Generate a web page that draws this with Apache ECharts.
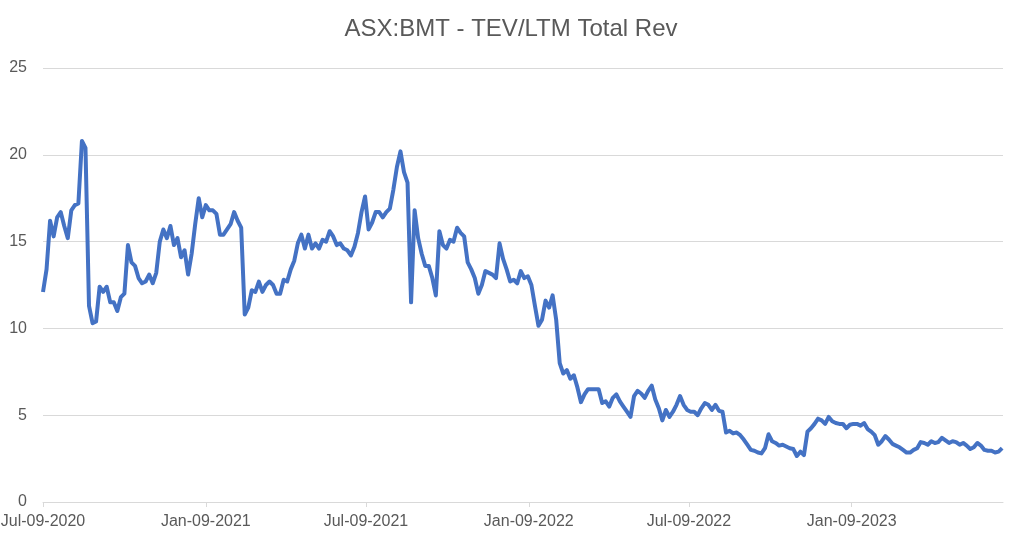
<!DOCTYPE html>
<html>
<head>
<meta charset="utf-8">
<script src="https://cdn.jsdelivr.net/npm/echarts@6/dist/echarts.min.js"></script>
<style>
  html, body { margin: 0; padding: 0; background: #fff; }
  #chart { width: 1022px; height: 550px; }
</style>
</head>
<body>
<div id="chart"></div>
<script>
// series starts Jul-09-2020, one reading every 4 days
var startDate = [2020, 6, 9];
var stepDays = 4;
var axisEndDays = 1085;

var tickDates = ['2020-07-09', '2021-01-09', '2021-07-09', '2022-01-09', '2022-07-09', '2023-01-09'];

var yTicks = [0, 5, 10, 15, 20, 25];

var tevRev = [
    12.1, 13.4, 16.2, 15.3, 16.4, 16.7, 15.9, 15.2, 16.8, 17.1,
    17.2, 20.8, 20.4, 11.3, 10.3, 10.4, 12.4, 12.1, 12.4, 11.5,
    11.5, 11.0, 11.8, 12.0, 14.8, 13.8, 13.6, 12.9, 12.6, 12.7,
    13.1, 12.6, 13.2, 15.0, 15.7, 15.2, 15.9, 14.8, 15.2, 14.1,
    14.5, 13.1, 14.3, 16.0, 17.5, 16.4, 17.1, 16.8, 16.8, 16.6,
    15.4, 15.4, 15.7, 16.0, 16.7, 16.2, 15.8, 10.8, 11.2, 12.2,
    12.1, 12.7, 12.1, 12.5, 12.7, 12.5, 12.0, 12.0, 12.8, 12.7,
    13.4, 13.9, 14.9, 15.4, 14.6, 15.4, 14.6, 14.9, 14.6, 15.1,
    15.0, 15.6, 15.3, 14.8, 14.9, 14.6, 14.5, 14.2, 14.7, 15.5,
    16.7, 17.6, 15.7, 16.1, 16.7, 16.7, 16.4, 16.7, 16.9, 18.0,
    19.3, 20.2, 19.0, 18.4, 11.5, 16.8, 15.2, 14.3, 13.6, 13.6,
    12.9, 11.9, 15.6, 14.8, 14.6, 15.1, 15.0, 15.8, 15.5, 15.3,
    13.8, 13.4, 12.9, 12.0, 12.5, 13.3, 13.2, 13.1, 12.9, 14.9,
    14.0, 13.4, 12.7, 12.8, 12.6, 13.3, 12.9, 13.0, 12.5, 11.3,
    10.15, 10.5, 11.6, 11.2, 11.9, 10.5, 8.0, 7.4, 7.6, 7.1,
    7.3, 6.6, 5.75, 6.2, 6.5, 6.5, 6.5, 6.5, 5.7, 5.8,
    5.5, 6.0, 6.2, 5.8, 5.5, 5.2, 4.9, 6.1, 6.4, 6.25,
    6.0, 6.4, 6.7, 5.9, 5.4, 4.7, 5.3, 4.9, 5.2, 5.6,
    6.1, 5.6, 5.3, 5.2, 5.2, 5.0, 5.4, 5.7, 5.6, 5.3,
    5.6, 5.25, 5.2, 4.0, 4.1, 3.95, 4.0, 3.85, 3.6, 3.3,
    3.0, 2.95, 2.85, 2.8, 3.1, 3.9, 3.5, 3.4, 3.25, 3.3,
    3.2, 3.1, 3.05, 2.65, 2.9, 2.7, 4.05, 4.25, 4.5, 4.8,
    4.7, 4.5, 4.9, 4.65, 4.55, 4.5, 4.5, 4.25, 4.45, 4.5,
    4.5, 4.4, 4.55, 4.2, 4.05, 3.85, 3.3, 3.5, 3.8, 3.6,
    3.35, 3.25, 3.15, 3.0, 2.85, 2.85, 3.0, 3.1, 3.45, 3.4,
    3.3, 3.5, 3.4, 3.45, 3.7, 3.55, 3.4, 3.5, 3.45, 3.3,
    3.4, 3.25, 3.05, 3.15, 3.4, 3.25, 3.0, 2.95, 2.95, 2.85,
    2.9, 3.1
];

var months = ['Jan', 'Feb', 'Mar', 'Apr', 'May', 'Jun', 'Jul', 'Aug', 'Sep', 'Oct', 'Nov', 'Dec'];

function dayAt(n) {
    return new Date(startDate[0], startDate[1], startDate[2] + n).getTime();
}
function parseDay(s) {
    var p = s.split('-');
    return new Date(+p[0], +p[1] - 1, +p[2]).getTime();
}
function fmtDay(v) {
    var d = new Date(v);
    var dd = d.getDate() < 10 ? '0' + d.getDate() : '' + d.getDate();
    return months[d.getMonth()] + '-' + dd + '-' + d.getFullYear();
}

var seriesData = tevRev.map(function (v, i) {
    return [dayAt(i * stepDays), v];
});
var tickValues = tickDates.map(parseDay);

var myChart = echarts.init(document.getElementById('chart'));

var option = {
    animation: false,
    backgroundColor: '#ffffff',
    title: {
        text: 'ASX:BMT - TEV/LTM Total Rev',
        left: 'center',
        top: 12,
        textStyle: {
            fontFamily: 'Liberation Sans',
            fontSize: 24,
            fontWeight: 'normal',
            color: '#595959'
        }
    },
    grid: {
        left: 43,
        right: 19,
        top: 68,
        bottom: 48,
        // first date label hangs off the left edge, like the original
        outerBoundsMode: 'none'
    },
    xAxis: {
        // dates as timestamps on a value axis so the ticks sit exactly on the 9th
        type: 'value',
        min: dayAt(0),
        max: dayAt(axisEndDays),
        axisLine: { show: true, lineStyle: { color: '#d9d9d9', width: 1 } },
        axisTick: {
            show: true,
            length: 5,
            customValues: tickValues,
            lineStyle: { color: '#d9d9d9' }
        },
        axisLabel: {
            customValues: tickValues,
            formatter: fmtDay,
            margin: 12,
            fontFamily: 'Liberation Sans',
            fontSize: 16,
            color: '#595959'
        },
        splitLine: { show: false }
    },
    yAxis: {
        type: 'value',
        min: yTicks[0],
        max: yTicks[yTicks.length - 1],
        interval: 5,
        axisLine: { show: false },
        axisTick: { show: false },
        axisLabel: {
            margin: 16,
            fontFamily: 'Liberation Sans',
            fontSize: 16,
            color: '#595959'
        },
        splitLine: { lineStyle: { color: '#d9d9d9', width: 1 } }
    },
    series: [{
        name: 'TEV/LTM Total Rev',
        type: 'line',
        data: seriesData,
        showSymbol: false,
        sampling: null,
        lineStyle: { color: '#4472C4', width: 4, join: 'round' },
        itemStyle: { color: '#4472C4' }
    }]
};

myChart.setOption(option);
</script>
</body>
</html>
